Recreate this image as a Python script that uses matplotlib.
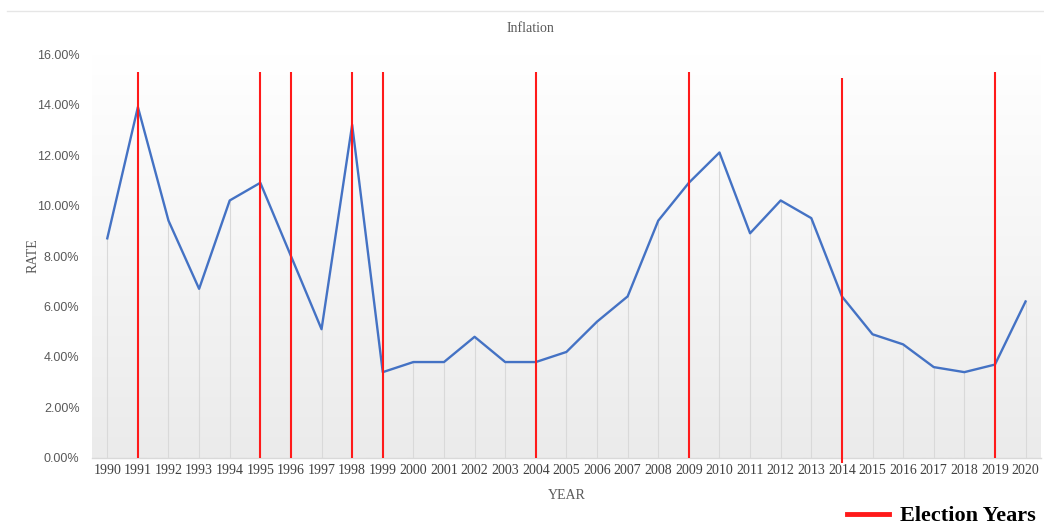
import numpy as np
import matplotlib.pyplot as plt
from matplotlib.colors import LinearSegmentedColormap
from matplotlib.lines import Line2D
from matplotlib.ticker import PercentFormatter

# annual inflation rate (%)
years = list(range(1990, 2021))
rate = [8.7, 13.9, 9.4, 6.7, 10.2, 10.9, 8.0, 5.1, 13.2, 3.4,
        3.8, 3.8, 4.8, 3.8, 3.8, 4.2, 5.4, 6.4, 9.4, 10.9,
        12.1, 8.9, 10.2, 9.5, 6.4, 4.9, 4.5, 3.6, 3.4, 3.7,
        6.2]

# election years, with where each marker line starts and stops
election_years = [1991, 1995, 1996, 1998, 1999, 2004, 2009, 2014, 2019]
election_top = [15.3, 15.3, 15.3, 15.3, 15.3, 15.3, 15.3, 15.05, 15.3]
election_bottom = [0, 0, 0, 0, 0, 0, 0, -0.2, 0]

serif = "Liberation Serif"
grey_text = "#595959"

fig = plt.figure(figsize=(10.44, 5.26), dpi=100)
ax = fig.add_axes([0.0881, 0.1293, 0.9089, 0.768])

x0, x1 = 1989.5, 2020.5
ax.set_xlim(x0, x1)
ax.set_ylim(0, 16)

# soft vertical gradient behind the plot, grey at the bottom
cmap = LinearSegmentedColormap.from_list("bg", ["#ffffff", "#ebebeb"])
grad = np.linspace(1, 0, 256).reshape(-1, 1)
ax.imshow(grad, extent=[x0, x1, 0, 16], aspect="auto", cmap=cmap,
          zorder=0, origin="lower")

# drop lines from each point to the axis
ax.vlines(years, 0, rate, colors="#d9d9d9", linewidth=0.8, zorder=1)
ax.plot(years, rate, color="#4472c4", linewidth=1.7, zorder=3)
ax.vlines(election_years, election_bottom, election_top, colors="#ff1a1a",
          linewidth=1.5, zorder=4, clip_on=False)

ax.set_xticks(years)
ax.set_xticklabels([str(y) for y in years], fontfamily=serif, fontsize=10,
                   color="#404040")
ax.set_yticks(np.arange(0, 17, 2))
ax.yaxis.set_major_formatter(PercentFormatter(decimals=2))
for lab in ax.get_yticklabels():
    lab.set_fontfamily("Liberation Sans")
    lab.set_fontsize(9)
    lab.set_color(grey_text)
ax.tick_params(axis="both", length=0)
ax.tick_params(axis="x", pad=4)
ax.tick_params(axis="y", pad=9)

for side in ["top", "right", "left"]:
    ax.spines[side].set_visible(False)
ax.spines["bottom"].set_color("#d9d9d9")
ax.spines["bottom"].set_linewidth(1)

ax.set_xlabel("YEAR", fontfamily=serif, fontsize=10, color=grey_text,
              labelpad=9)
ax.set_ylabel("RATE", fontfamily=serif, fontsize=10, color=grey_text,
              labelpad=-2)
fig.text(0.508, 0.945, "Inflation", fontfamily=serif, fontsize=10,
         color=grey_text, ha="center", va="center")

# thin frame line across the top
fig.add_artist(Line2D([0.007, 1.0], [0.979, 0.979], color="#e6e6e6",
                      linewidth=1))

handle = Line2D([], [], color="#ff1a1a", linewidth=3.5)
leg = fig.legend([handle], ["Election Years"], loc="center right",
                 bbox_to_anchor=(0.992, 0.019), frameon=False,
                 handlelength=1.9, handletextpad=0.5, borderaxespad=0,
                 borderpad=0,
                 prop={"family": serif, "weight": "bold", "size": 16})

fig.savefig("out.png", dpi=100)
